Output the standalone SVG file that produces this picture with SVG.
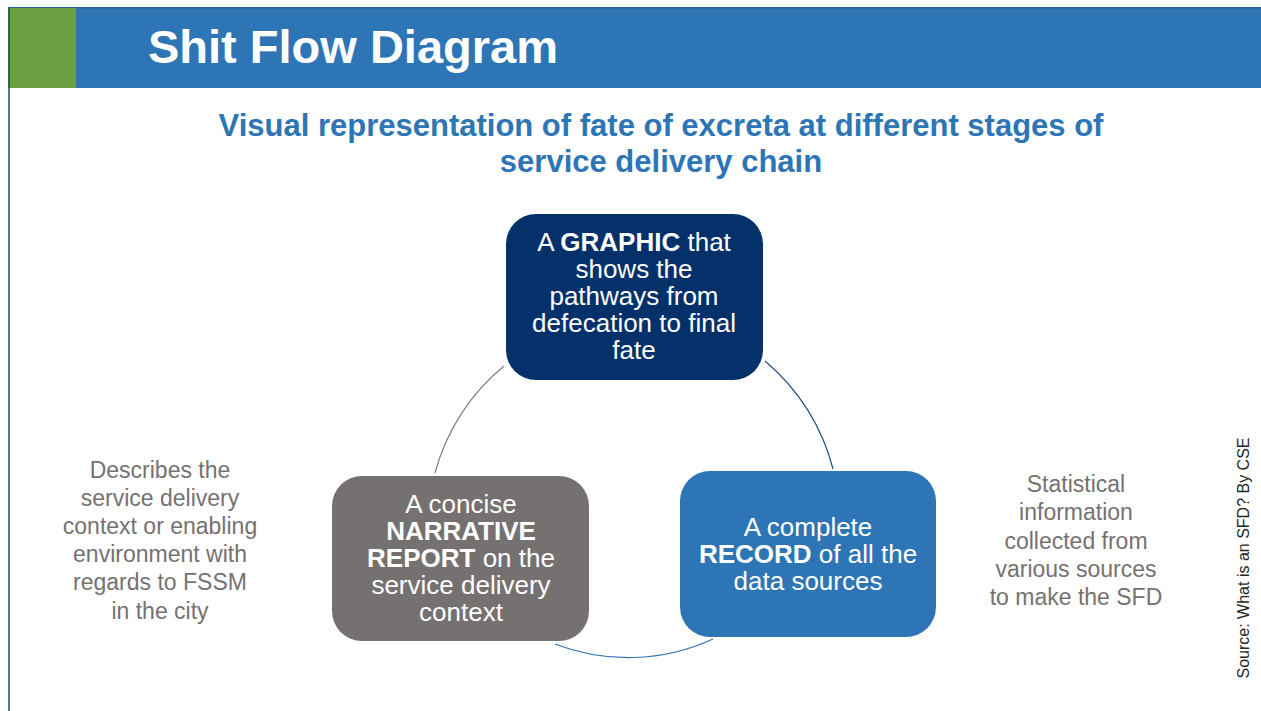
<svg xmlns="http://www.w3.org/2000/svg" width="1261" height="711" viewBox="0 0 1261 711">
<style>
.title{font-family:"Liberation Sans",Arial,sans-serif;font-weight:bold;font-size:47px;fill:#ffffff}
.sub{font-family:"Liberation Sans",Arial,sans-serif;font-weight:bold;font-size:31px;fill:#2E75B6;text-anchor:middle}
.box{font-family:"Liberation Sans",Arial,sans-serif;font-size:26px;fill:#ffffff;text-anchor:middle}
.side{font-family:"Liberation Sans",Arial,sans-serif;font-size:23px;fill:#767171;text-anchor:middle}
.src{font-family:"Liberation Sans",Arial,sans-serif;font-size:16px;fill:#262626;text-anchor:middle}
.b{font-weight:bold}
.arc{fill:none;stroke-width:1.2}
</style>
<rect x="0" y="0" width="1261" height="711" fill="#ffffff"/>
<g id="header">
<rect x="8" y="7" width="1253" height="81" fill="#2E75B6"/>
<rect x="8" y="7" width="1253" height="1.5" fill="#2B5C8A"/>
<rect x="8" y="8" width="68" height="80" fill="#6AA042"/>
<line x1="9" y1="7" x2="9" y2="711" stroke="#1F4E79" stroke-width="1.5"/>
<text class="title" x="148" y="63">Shit Flow Diagram</text>
</g>
<g id="subtitle">
<text class="sub" x="661" y="136">Visual representation of fate of excreta at different stages of</text>
<text class="sub" x="661" y="172">service delivery chain</text>
</g>
<g id="connectors">
<path class="arc" d="M504,366 A207,207 0 0,0 435,473" stroke="#7F7F7F"/>
<path class="arc" d="M765,361 A208,208 0 0,1 833,469" stroke="#1F4E79"/>
<path class="arc" d="M555,644 A203,203 0 0,0 713,639" stroke="#2E75B6"/>
</g>
<g id="node-graphic">
<rect x="506" y="214" width="257" height="166" rx="30" fill="#04316A"/>
<text class="box" x="634" y="251">A <tspan class="b">GRAPHIC</tspan> that</text>
<text class="box" x="634" y="278">shows the</text>
<text class="box" x="634" y="305">pathways from</text>
<text class="box" x="634" y="332">defecation to final</text>
<text class="box" x="634" y="359">fate</text>
</g>
<g id="node-report">
<rect x="332" y="476" width="257" height="165" rx="30" fill="#767171"/>
<text class="box" x="461" y="513">A concise</text>
<text class="box" x="461" y="540"><tspan class="b">NARRATIVE</tspan></text>
<text class="box" x="461" y="567"><tspan class="b">REPORT</tspan> on the</text>
<text class="box" x="461" y="594">service delivery</text>
<text class="box" x="461" y="621">context</text>
</g>
<g id="node-record">
<rect x="680" y="471" width="256" height="166" rx="30" fill="#2E75B6"/>
<text class="box" x="808" y="536">A complete</text>
<text class="box" x="808" y="563"><tspan class="b">RECORD</tspan> of all the</text>
<text class="box" x="808" y="590">data sources</text>
</g>
<g id="note-left">
<text class="side" x="160" y="478">Describes the</text>
<text class="side" x="160" y="506">service delivery</text>
<text class="side" x="160" y="534">context or enabling</text>
<text class="side" x="160" y="562">environment with</text>
<text class="side" x="160" y="590">regards to FSSM</text>
<text class="side" x="160" y="619">in the city</text>
</g>
<g id="note-right">
<text class="side" x="1076" y="492">Statistical</text>
<text class="side" x="1076" y="520">information</text>
<text class="side" x="1076" y="549">collected from</text>
<text class="side" x="1076" y="577">various sources</text>
<text class="side" x="1076" y="605">to make the SFD</text>
</g>
<g id="source">
<text class="src" transform="translate(1249,558) rotate(-90)" x="0" y="0">Source: What is an SFD? By CSE</text>
</g>
</svg>
